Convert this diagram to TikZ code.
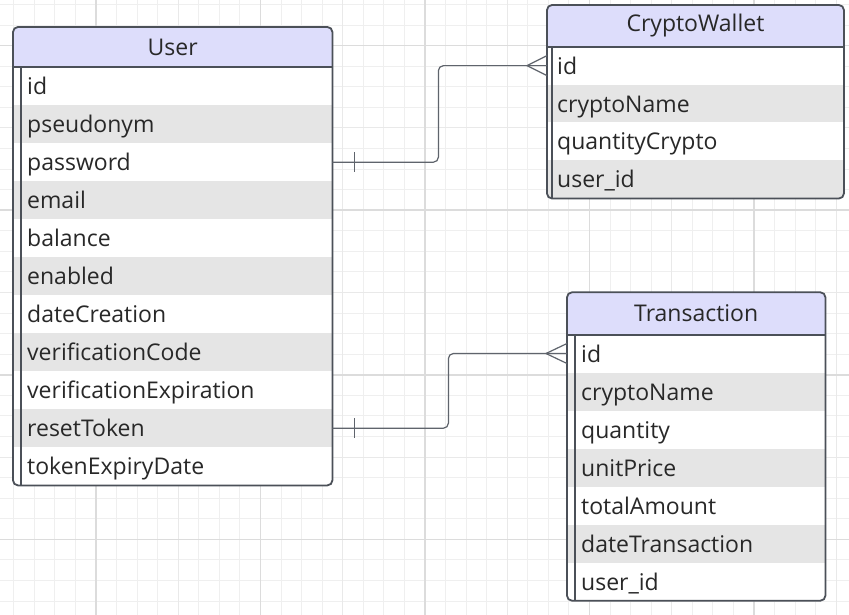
\documentclass[tikz,border=0pt]{standalone}
\usepackage{fontspec}
\setmainfont{Open Sans}
\definecolor{hdr}{RGB}{221,221,251}
\definecolor{shade}{RGB}{229,229,229}
\definecolor{bord}{RGB}{75,80,88}
\definecolor{conn}{RGB}{95,100,108}
\definecolor{txt}{RGB}{40,40,40}
\definecolor{gminor}{RGB}{239,239,239}
\definecolor{gmed}{RGB}{233,233,233}
\definecolor{gmajor}{RGB}{220,220,220}
\begin{document}
\begin{tikzpicture}[x=1pt,y=-1pt,
  tfont/.style={font=\fontsize{23}{28}\selectfont, text=txt},
  hdrbox/.style={tfont, rectangle, fill=hdr, inner sep=0pt, anchor=north west, align=center},
  rowbox/.style={tfont, rectangle, inner ysep=0pt, minimum height=#1, align=left,
    text height=17.5pt, text depth=0.5pt, anchor=north west},
  urow/.style={rowbox=38pt, inner xsep=14pt, text width=291pt},
  crow/.style={rowbox=37.9pt, inner xsep=10pt, text width=276.5pt},
  trow/.style={rowbox=38pt, inner xsep=14pt, text width=230pt},
  sh/.style={fill=shade},
  wh/.style={fill=white},
  tborder/.style={draw=bord, line width=1.8pt, rounded corners=5pt},
  tline/.style={draw=bord, line width=1.8pt},
  connector/.style={draw=conn, line width=1.2pt, rounded corners=5pt},
  mark1/.style={draw=conn, line width=1.2pt},
]
\useasboundingbox (0,0) rectangle (849,615);
\fill[white] (0,0) rectangle (849,615);
% grid
\foreach \k in {-20,...,20} \draw[gminor, line width=1pt] ({425+20.57*\k},0) -- ({425+20.57*\k},615);
\foreach \j in {-26,...,3} \draw[gminor, line width=1pt] (0,{539.3+20.57*\j}) -- (849,{539.3+20.57*\j});
\foreach \k in {-4,...,5} \draw[gmed, line width=1pt] ({425+82.28*\k},0) -- ({425+82.28*\k},615);
\foreach \j in {-6,...,0} \draw[gmed, line width=1pt] (0,{539.3+82.28*\j}) -- (849,{539.3+82.28*\j});
\foreach \k in {-2,...,2} \draw[gmajor, line width=1.6pt] ({425+164.56*\k},0) -- ({425+164.56*\k},615);
\foreach \j in {-3,...,0} \draw[gmajor, line width=1.6pt] (0,{539.3+164.56*\j}) -- (849,{539.3+164.56*\j});

% ---------- User ----------
\begin{scope}
\clip[rounded corners=5pt] (13,27) rectangle (332,485);
\node[hdrbox, minimum width=319pt, minimum height=40pt] (user) at (13,27) {User};
\node[urow,wh] (u1) at (13,67) {id};
\node[urow,sh] (u2) at (13,105) {pseudonym};
\node[urow,wh] (u3) at (13,143) {password};
\node[urow,sh] (u4) at (13,181) {email};
\node[urow,wh] (u5) at (13,219) {balance};
\node[urow,sh] (u6) at (13,257) {enabled};
\node[urow,wh] (u7) at (13,295) {dateCreation};
\node[urow,sh] (u8) at (13,333) {verificationCode};
\node[urow,wh] (u9) at (13,371) {verificationExpiration};
\node[urow,sh] (u10) at (13,409) {resetToken};
\node[urow,wh] (u11) at (13,447) {tokenExpiryDate};
\end{scope}
\draw[tline] (user.south west) -- (user.south east);
\draw[tline] ([xshift=8pt]user.south west) -- ([xshift=8pt]u11.south west);
\draw[tborder] (user.north west) rectangle (u11.south east);

% ---------- CryptoWallet ----------
\begin{scope}
\clip[rounded corners=5pt] (547,5) rectangle (843.5,198);
\node[hdrbox, minimum width=296.5pt, minimum height=41.5pt] (cw) at (547,5) {CryptoWallet};
\node[crow,wh] (c1) at (547,46.5) {id};
\node[crow,sh] (c2) at (547,84.4) {cryptoName};
\node[crow,wh] (c3) at (547,122.3) {quantityCrypto};
\node[crow,sh] (c4) at (547,160.2) {user\_id};
\end{scope}
\draw[tline] (cw.south west) -- (cw.south east);
\draw[tline] ([xshift=5pt]cw.south west) -- ([xshift=5pt]c4.south west);
\draw[tborder] (cw.north west) rectangle (c4.south east);

% ---------- Transaction ----------
\begin{scope}
\clip[rounded corners=5pt] (567,292.3) rectangle (825,600.3);
\node[hdrbox, minimum width=258pt, minimum height=42pt] (tr) at (567,292.3) {Transaction};
\node[trow,wh] (t1) at (567,334.3) {id};
\node[trow,sh] (t2) at (567,372.3) {cryptoName};
\node[trow,wh] (t3) at (567,410.3) {quantity};
\node[trow,sh] (t4) at (567,448.3) {unitPrice};
\node[trow,wh] (t5) at (567,486.3) {totalAmount};
\node[trow,sh] (t6) at (567,524.3) {dateTransaction};
\node[trow,wh] (t7) at (567,562.3) {user\_id};
\end{scope}
\draw[tline] (tr.south west) -- (tr.south east);
\draw[tline] ([xshift=8pt]tr.south west) -- ([xshift=8pt]t7.south west);
\draw[tborder] (tr.north west) rectangle (t7.south east);

% ---------- connectors ----------
\draw[connector] (u3.east) -- ++(106,0) |- (c1.west);
\draw[mark1] ([xshift=22pt,yshift=10pt]u3.east) -- ([xshift=22pt,yshift=-10pt]u3.east);
\draw[mark1] ([yshift=10pt]c1.west) -- ([xshift=-20pt]c1.west) -- ([yshift=-10pt]c1.west);

\draw[connector] (u10.east) -- ++(116,0) |- (t1.west);
\draw[mark1] ([xshift=22pt,yshift=10pt]u10.east) -- ([xshift=22pt,yshift=-10pt]u10.east);
\draw[mark1] ([yshift=10pt]t1.west) -- ([xshift=-21pt]t1.west) -- ([yshift=-10pt]t1.west);
\end{tikzpicture}
\end{document}
